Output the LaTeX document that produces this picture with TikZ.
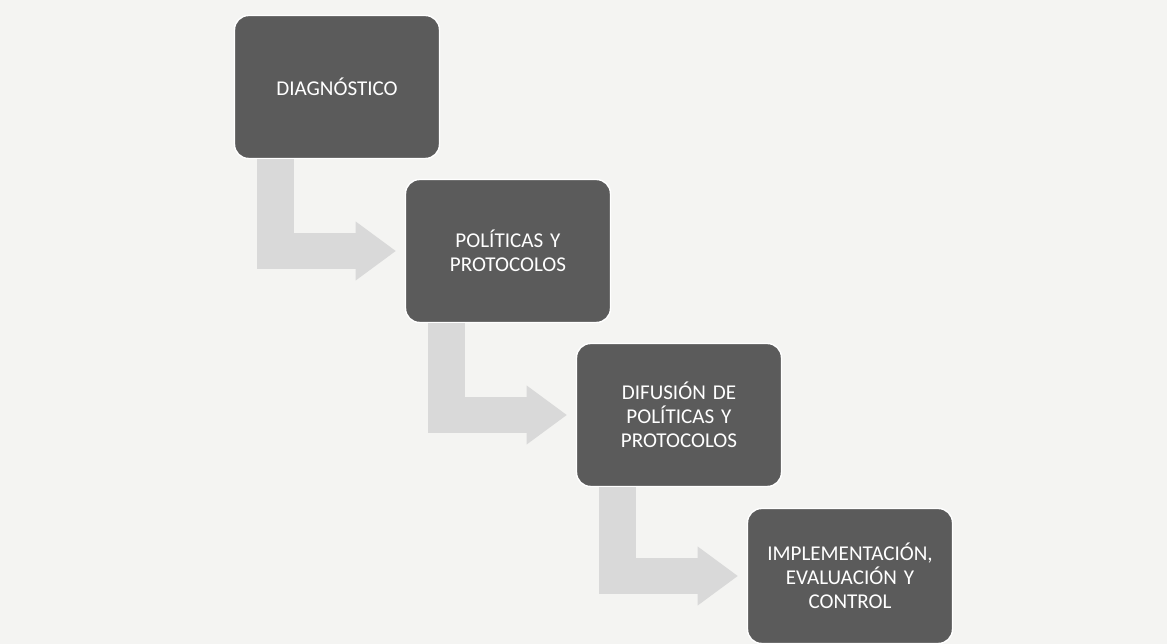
\documentclass[tikz,border=0pt]{standalone}
\usepackage{fontspec}
\setmainfont{Carlito}
\usetikzlibrary{arrows.meta}
\definecolor{paper}{HTML}{F4F4F2}
\definecolor{boxgray}{HTML}{5B5B5B}
\definecolor{arrowgray}{HTML}{D9D9D9}
\begin{document}
\begin{tikzpicture}[
    x=0.02cm, y=-0.02cm,
    stage/.style={rectangle, rounded corners=8pt, draw=white, line width=0.8pt, fill=boxgray, text=white, minimum width=4.1cm, minimum height=2.86cm, text width=3.6cm, align=center, font=\fontsize{12}{13.6}\selectfont},
    flow/.style={arrowgray, line width=21pt, line join=miter, shorten >=5pt, -{Triangle[width=32pt, length=23pt]}}
  ]
    % Background
    \fill[paper] (0,0) rectangle (1167,644);
    \clip (0,0) rectangle (1167,644);

    % Stages
    \node[stage] (diag) at (337,87) {DIAGNÓSTICO};
    \node[stage] (poli) at (508,251) {POLÍTICAS Y\\PROTOCOLOS};
    \node[stage] (difu) at (679,415) {DIFUSIÓN DE\\POLÍTICAS Y\\PROTOCOLOS};
    \node[stage, minimum height=2.7cm] (impl) at (850,576) {IMPLEMENTACIÓN,\\EVALUACIÓN Y\\CONTROL};

    % Arrows
    \foreach \a/\b in {diag/poli, poli/difu, difu/impl} {
      \draw[flow] ([xshift=0.84cm]\a.south west) |- (\b.west);
    }
  \end{tikzpicture}
\end{document}
